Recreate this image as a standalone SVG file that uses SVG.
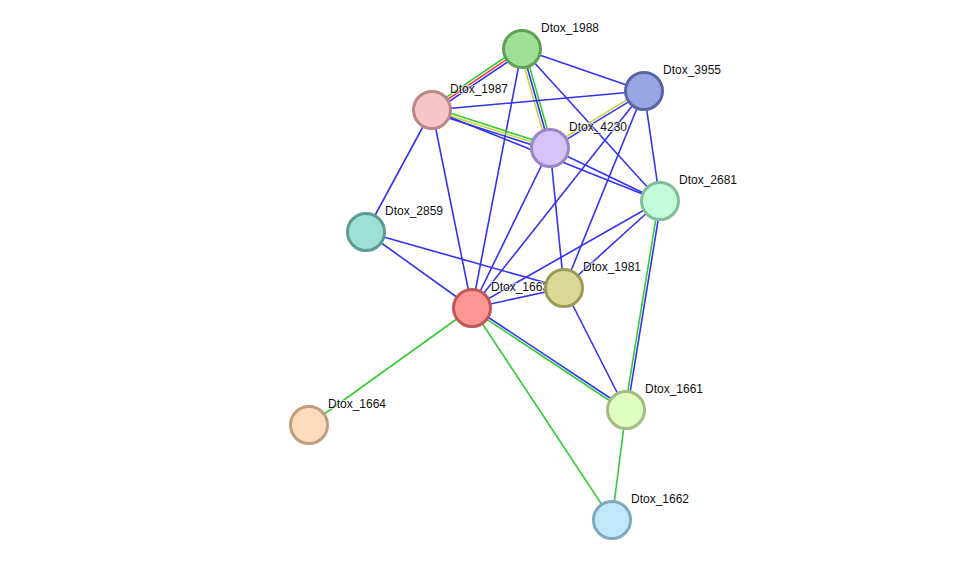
<svg xmlns="http://www.w3.org/2000/svg" width="975" height="566" viewBox="0 0 975 566">
<style>
.e{stroke-width:1.6;fill:none}
.b{stroke:#3333f2}
.g{stroke:#33cc33}
.y{stroke:#c8d436}
.r{stroke:#f03a3a}
.n{stroke-width:3}
text{font-family:"Liberation Sans",Arial,sans-serif;font-size:12px;fill:#111;paint-order:stroke;stroke:#fff;stroke-width:2px;stroke-opacity:0.6}
</style>
<rect width="975" height="566" fill="#fff"/>
<g id="edges">
<line class="e g" x1="520.6" y1="46.9" x2="430.6" y2="107.9"/>
<line class="e r" x1="522" y1="49" x2="432" y2="110"/>
<line class="e b" x1="523.4" y1="51.1" x2="433.4" y2="112.1"/>
<line class="e y" x1="519.6" y1="49.7" x2="547.6" y2="148.7"/>
<line class="e b" x1="522" y1="49" x2="550" y2="148"/>
<line class="e g" x1="524.4" y1="48.3" x2="552.4" y2="147.3"/>
<line class="e b" x1="522" y1="49" x2="644" y2="91"/>
<line class="e b" x1="522" y1="49" x2="660" y2="201"/>
<line class="e b" x1="522" y1="49" x2="472" y2="308"/>
<line class="e b" x1="432" y1="110" x2="644" y2="91"/>
<line class="e g" x1="432.8" y1="107.6" x2="550.8" y2="145.6"/>
<line class="e y" x1="432" y1="110" x2="550" y2="148"/>
<line class="e b" x1="431.2" y1="112.4" x2="549.2" y2="150.4"/>
<line class="e b" x1="432" y1="110" x2="660" y2="201"/>
<line class="e b" x1="432" y1="110" x2="366" y2="232"/>
<line class="e b" x1="432" y1="110" x2="472" y2="308"/>
<line class="e y" x1="643.4" y1="89.9" x2="549.4" y2="146.9"/>
<line class="e b" x1="644.6" y1="92.1" x2="550.6" y2="149.1"/>
<line class="e b" x1="644" y1="91" x2="660" y2="201"/>
<line class="e b" x1="644" y1="91" x2="472" y2="308"/>
<line class="e b" x1="644" y1="91" x2="564" y2="288"/>
<line class="e b" x1="550" y1="148" x2="660" y2="201"/>
<line class="e b" x1="550" y1="148" x2="472" y2="308"/>
<line class="e b" x1="550" y1="148" x2="564" y2="288"/>
<line class="e b" x1="660" y1="201" x2="472" y2="308"/>
<line class="e b" x1="660" y1="201" x2="564" y2="288"/>
<line class="e g" x1="658.8" y1="200.8" x2="624.8" y2="409.8"/>
<line class="e b" x1="661.2" y1="201.2" x2="627.2" y2="410.2"/>
<line class="e b" x1="366" y1="232" x2="472" y2="308"/>
<line class="e b" x1="366" y1="232" x2="564" y2="288"/>
<line class="e b" x1="472" y1="308" x2="564" y2="288"/>
<line class="e b" x1="472.7" y1="307" x2="626.7" y2="409"/>
<line class="e g" x1="471.3" y1="309" x2="625.3" y2="411"/>
<line class="e g" x1="472" y1="308" x2="309" y2="425"/>
<line class="e g" x1="472" y1="308" x2="612" y2="520"/>
<line class="e b" x1="564" y1="288" x2="626" y2="410"/>
<line class="e g" x1="626" y1="410" x2="612" y2="520"/>
</g>
<g id="Dtox_1988"><circle class="n" cx="522" cy="49" r="18.5" fill="#a0e096" stroke="#60a057"/><text x="541" y="32">Dtox_1988</text></g>
<g id="Dtox_3955"><circle class="n" cx="644" cy="91" r="18.5" fill="#99a5e2" stroke="#5866a4"/><text x="663" y="74">Dtox_3955</text></g>
<g id="Dtox_1987"><circle class="n" cx="432" cy="110" r="18.5" fill="#f6c6c6" stroke="#b98888"/><text x="450" y="93">Dtox_1987</text></g>
<g id="Dtox_4230"><circle class="n" cx="550" cy="148" r="18.5" fill="#d6c3fa" stroke="#9a86c4"/><text x="569" y="131">Dtox_4230</text></g>
<g id="Dtox_2681"><circle class="n" cx="660" cy="201" r="18.5" fill="#c2fcd8" stroke="#84be98"/><text x="679" y="184">Dtox_2681</text></g>
<g id="Dtox_2859"><circle class="n" cx="366" cy="232" r="18.5" fill="#9de0d6" stroke="#5b9d94"/><text x="385" y="215">Dtox_2859</text></g>
<g id="Dtox_1663"><circle class="n" cx="472" cy="308" r="18.5" fill="#fe9696" stroke="#c05858"/><text x="491" y="291">Dtox_1663</text></g>
<g id="Dtox_1981"><circle class="n" cx="564" cy="288" r="18.5" fill="#dcd998" stroke="#9d9a57"/><text x="583" y="271">Dtox_1981</text></g>
<g id="Dtox_1661"><circle class="n" cx="626" cy="410" r="18.5" fill="#e0fdc2" stroke="#a1bd84"/><text x="645" y="393">Dtox_1661</text></g>
<g id="Dtox_1664"><circle class="n" cx="309" cy="425" r="18.5" fill="#fddcbd" stroke="#bf9e7d"/><text x="328" y="408">Dtox_1664</text></g>
<g id="Dtox_1662"><circle class="n" cx="612" cy="520" r="18.5" fill="#c2e8fc" stroke="#82a8bf"/><text x="631" y="503">Dtox_1662</text></g>
</svg>
